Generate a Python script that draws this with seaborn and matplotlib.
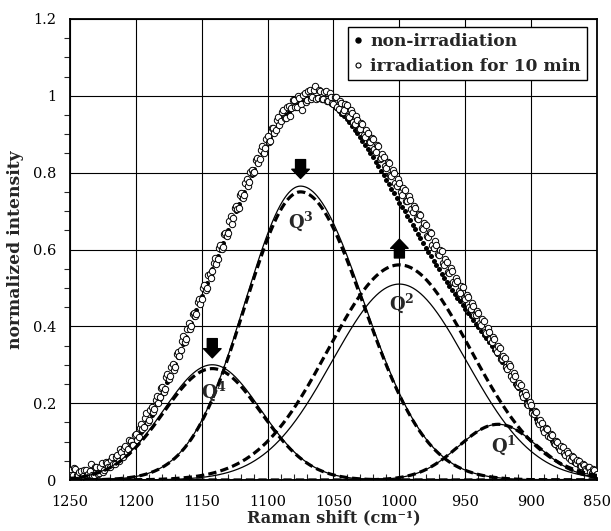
import numpy as np
import pandas as pd
import matplotlib
matplotlib.use("Agg")
import matplotlib.pyplot as plt
import seaborn as sns
from matplotlib.lines import Line2D
from matplotlib.ticker import MultipleLocator, FixedLocator

# ---------------- data ----------------
wavenumber_non = np.arange(1250, 849, -2)   # sampling of the non-irradiated spectrum (cm-1)
wavenumber_irr = np.arange(1250, 849, -1)   # sampling of the irradiated spectrum (cm-1)

non_irradiation = [
    0.008, 0.009, 0.008, 0.010, 0.009,
    0.010, 0.012, 0.013, 0.015, 0.016,
    0.018, 0.022, 0.025, 0.028, 0.032,
    0.035, 0.041, 0.046, 0.052, 0.057,
    0.063, 0.070, 0.079, 0.087, 0.095,
    0.103, 0.114, 0.124, 0.136, 0.146,
    0.157, 0.170, 0.184, 0.198, 0.211,
    0.225, 0.240, 0.256, 0.271, 0.287,
    0.302, 0.320, 0.337, 0.355, 0.372,
    0.390, 0.408, 0.425, 0.443, 0.460,
    0.478, 0.496, 0.513, 0.531, 0.548,
    0.566, 0.583, 0.600, 0.618, 0.635,
    0.652, 0.668, 0.685, 0.701, 0.718,
    0.734, 0.749, 0.765, 0.780, 0.795,
    0.810, 0.824, 0.837, 0.851, 0.864,
    0.878, 0.889, 0.901, 0.912, 0.924,
    0.935, 0.943, 0.950, 0.958, 0.965,
    0.973, 0.977, 0.981, 0.985, 0.989,
    0.993, 0.995, 0.996, 0.996, 0.996,
    0.995, 0.992, 0.988, 0.984, 0.980,
    0.975, 0.968, 0.961, 0.954, 0.947,
    0.940, 0.931, 0.921, 0.912, 0.902,
    0.893, 0.882, 0.872, 0.861, 0.851,
    0.840, 0.828, 0.817, 0.805, 0.794,
    0.782, 0.770, 0.758, 0.746, 0.734,
    0.722, 0.711, 0.699, 0.688, 0.676,
    0.665, 0.653, 0.641, 0.629, 0.617,
    0.605, 0.594, 0.582, 0.571, 0.559,
    0.548, 0.537, 0.526, 0.516, 0.505,
    0.494, 0.484, 0.474, 0.465, 0.455,
    0.445, 0.435, 0.426, 0.416, 0.407,
    0.397, 0.388, 0.378, 0.369, 0.359,
    0.350, 0.339, 0.329, 0.318, 0.308,
    0.297, 0.286, 0.274, 0.263, 0.251,
    0.240, 0.228, 0.217, 0.205, 0.194,
    0.182, 0.171, 0.160, 0.150, 0.139,
    0.128, 0.119, 0.111, 0.102, 0.094,
    0.085, 0.078, 0.072, 0.065, 0.059,
    0.052, 0.048, 0.043, 0.039, 0.034,
    0.030, 0.026, 0.023, 0.019, 0.016,
    0.012,
]

irradiation_10min = [
    0.026, 0.012, 0.012, 0.032, 0.029, 0.013, 0.013, 0.022, 0.024, 0.009,
    0.010, 0.026, 0.027, 0.012, 0.015, 0.023, 0.042, 0.013, 0.013, 0.035,
    0.034, 0.016, 0.019, 0.033, 0.044, 0.021, 0.027, 0.047, 0.045, 0.033,
    0.035, 0.053, 0.059, 0.041, 0.042, 0.061, 0.066, 0.050, 0.080, 0.072,
    0.061, 0.082, 0.089, 0.072, 0.080, 0.103, 0.101, 0.092, 0.090, 0.117,
    0.120, 0.104, 0.113, 0.136, 0.146, 0.132, 0.138, 0.161, 0.174, 0.150,
    0.155, 0.183, 0.190, 0.176, 0.185, 0.209, 0.218, 0.200, 0.215, 0.239,
    0.241, 0.230, 0.236, 0.267, 0.276, 0.262, 0.271, 0.295, 0.302, 0.287,
    0.295, 0.329, 0.333, 0.323, 0.338, 0.363, 0.376, 0.360, 0.368, 0.394,
    0.409, 0.394, 0.402, 0.433, 0.434, 0.426, 0.432, 0.463, 0.472, 0.458,
    0.470, 0.499, 0.507, 0.494, 0.499, 0.533, 0.537, 0.526, 0.543, 0.565,
    0.577, 0.562, 0.574, 0.603, 0.611, 0.601, 0.607, 0.641, 0.643, 0.636,
    0.644, 0.673, 0.686, 0.667, 0.682, 0.709, 0.714, 0.705, 0.708, 0.741,
    0.748, 0.735, 0.741, 0.773, 0.784, 0.764, 0.777, 0.802, 0.808, 0.798,
    0.802, 0.834, 0.838, 0.825, 0.835, 0.860, 0.869, 0.850, 0.865, 0.887,
    0.896, 0.881, 0.883, 0.915, 0.915, 0.902, 0.910, 0.937, 0.944, 0.923,
    0.934, 0.958, 0.962, 0.942, 0.942, 0.972, 0.973, 0.947, 0.968, 0.988,
    0.990, 0.972, 0.971, 0.999, 0.994, 0.978, 0.964, 1.003, 1.008, 0.985,
    0.988, 1.012, 1.016, 0.991, 0.996, 1.014, 1.025, 0.991, 0.994, 1.014,
    1.013, 0.992, 0.991, 1.011, 1.012, 0.987, 0.987, 1.007, 0.998, 0.982,
    0.980, 0.998, 0.996, 0.970, 0.965, 0.986, 0.982, 0.959, 0.962, 0.978,
    0.975, 0.947, 0.945, 0.962, 0.956, 0.933, 0.926, 0.947, 0.937, 0.914,
    0.914, 0.930, 0.927, 0.898, 0.893, 0.911, 0.903, 0.879, 0.880, 0.891,
    0.888, 0.862, 0.855, 0.872, 0.870, 0.836, 0.837, 0.849, 0.841, 0.817,
    0.811, 0.828, 0.824, 0.794, 0.791, 0.806, 0.799, 0.772, 0.764, 0.784,
    0.774, 0.749, 0.742, 0.760, 0.756, 0.726, 0.725, 0.738, 0.729, 0.705,
    0.698, 0.713, 0.709, 0.681, 0.679, 0.693, 0.690, 0.657, 0.654, 0.668,
    0.663, 0.634, 0.632, 0.646, 0.642, 0.613, 0.605, 0.623, 0.613, 0.589,
    0.585, 0.598, 0.596, 0.564, 0.559, 0.575, 0.567, 0.541, 0.539, 0.551,
    0.545, 0.516, 0.512, 0.526, 0.519, 0.493, 0.486, 0.505, 0.503, 0.473,
    0.470, 0.482, 0.477, 0.450, 0.444, 0.460, 0.454, 0.430, 0.430, 0.440,
    0.434, 0.409, 0.404, 0.418, 0.415, 0.386, 0.382, 0.395, 0.385, 0.366,
    0.360, 0.372, 0.368, 0.341, 0.334, 0.349, 0.343, 0.316, 0.314, 0.323,
    0.317, 0.294, 0.289, 0.301, 0.297, 0.270, 0.264, 0.278, 0.270, 0.248,
    0.244, 0.253, 0.248, 0.223, 0.217, 0.229, 0.222, 0.198, 0.195, 0.202,
    0.196, 0.175, 0.171, 0.180, 0.176, 0.152, 0.147, 0.157, 0.149, 0.132,
    0.126, 0.135, 0.132, 0.114, 0.111, 0.120, 0.116, 0.096, 0.095, 0.101,
    0.098, 0.082, 0.079, 0.088, 0.086, 0.070, 0.065, 0.075, 0.070, 0.056,
    0.053, 0.062, 0.060, 0.046, 0.044, 0.053, 0.050, 0.036, 0.036, 0.042,
    0.040, 0.028, 0.026, 0.034, 0.033, 0.020, 0.018, 0.028, 0.027, 0.014,
    0.015,
]

# Gaussian components (Q^n species)
peak_names = ["Q$^{\\mathbf{4}}$", "Q$^{\\mathbf{3}}$", "Q$^{\\mathbf{2}}$", "Q$^{\\mathbf{1}}$"]
peak_center = [1142, 1075, 1000, 925]
height_non = [0.300, 0.765, 0.510, 0.145]
height_irr = [0.290, 0.750, 0.560, 0.145]
sigma_high_non = [37, 42, 51, 30]   # width on high-wavenumber side
sigma_low_non = [37, 48, 51, 30]    # width on low-wavenumber side
sigma_high_irr = [37, 42, 54, 30]
sigma_low_irr = [37, 48, 54, 30]
baseline_level = [0.0, 0.0]

x_ticks = [1250, 1200, 1150, 1100, 1050, 1000, 950, 900, 850]
y_ticks = [0, 0.2, 0.4, 0.6, 0.8, 1.0, 1.2]
y_tick_labels = ["0", "0.2", "0.4", "0.6", "0.8", "1", "1.2"]

# ---------------- style ----------------
sns.set_theme(style="white")
plt.rcParams["font.family"] = ["DejaVu Serif"]
plt.rcParams["mathtext.fontset"] = "dejavuserif"
plt.rcParams["axes.edgecolor"] = "black"

fig = plt.figure(figsize=(6.11, 5.31), dpi=100)
ax = fig.add_axes([70 / 611, 51 / 531, 527 / 611, 461 / 531])

x_fit = np.linspace(850, 1250, 801)


def component(c, h, s_hi, s_lo):
    s = np.where(x_fit >= c, s_hi, s_lo)
    return h * np.exp(-((x_fit - c) ** 2) / (2.0 * s ** 2))


# data points
sns.scatterplot(x=wavenumber_non, y=non_irradiation, ax=ax, color="black", s=13,
                linewidth=0, zorder=3, legend=False)
sns.scatterplot(x=wavenumber_irr, y=irradiation_10min, ax=ax, facecolor="white",
                edgecolor="black", s=21, linewidth=0.7, zorder=4, legend=False)

# components
for i in range(len(peak_center)):
    yn = component(peak_center[i], height_non[i], sigma_high_non[i], sigma_low_non[i])
    yi = component(peak_center[i], height_irr[i], sigma_high_irr[i], sigma_low_irr[i])
    sns.lineplot(x=x_fit, y=yn, ax=ax, color="black", lw=0.9, zorder=5,
                 estimator=None, sort=False)
    sns.lineplot(x=x_fit, y=yi, ax=ax, color="black", lw=2.3, zorder=5,
                 linestyle=(0, (2.6, 1.3)), estimator=None, sort=False)
sns.lineplot(x=[1250, 850], y=baseline_level, ax=ax, color="black", lw=2.3,
             linestyle=(0, (2.6, 1.3)), zorder=5, estimator=None, sort=False)

# labels for the components
label_pos = [(1141, 0.232), (1075, 0.673), (998, 0.46), (921, 0.091)]
for name, (lx, ly) in zip(peak_names, label_pos):
    ax.text(lx, ly, name, ha="center", va="center", fontsize=13,
            fontweight="bold", zorder=6)

# arrows showing change on irradiation
arrow_specs = [((1142, 0.368), (1142, 0.318)),
               ((1075, 0.834), (1075, 0.785)),
               ((1000, 0.578), (1000, 0.627))]
for base, tip in arrow_specs:
    ax.annotate("", xy=tip, xytext=base,
                arrowprops=dict(arrowstyle="simple,head_length=0.55,head_width=1.05,tail_width=0.6",
                                color="black", shrinkA=0, shrinkB=0, mutation_scale=12),
                zorder=6)

# axes
ax.set_xlim(1250, 850)
ax.set_ylim(0, 1.2)
ax.xaxis.set_major_locator(FixedLocator(x_ticks))
ax.set_xticklabels([str(t) for t in x_ticks])
ax.yaxis.set_major_locator(FixedLocator(y_ticks))
ax.set_yticklabels(y_tick_labels)
ax.xaxis.set_minor_locator(MultipleLocator(10))
ax.yaxis.set_minor_locator(MultipleLocator(0.05))
ax.grid(True, which="major", color="black", lw=0.8)
ax.tick_params(axis="both", which="major", length=0, labelsize=10.5, colors="black")
ax.tick_params(axis="x", which="major", pad=11)
ax.tick_params(axis="y", which="major", pad=10)
ax.tick_params(axis="x", which="minor", direction="in", length=4, width=0.8, bottom=True)
ax.tick_params(axis="y", which="minor", direction="out", length=4, width=0.8, left=True)
for sp in ax.spines.values():
    sp.set_linewidth(1.3)
    sp.set_color("black")

ax.set_xlabel("Raman shift (cm⁻¹)", fontsize=11.6, fontweight="bold", labelpad=0)
ax.set_ylabel("normalized intensity", fontsize=12.3, fontweight="bold", labelpad=6)

handles = [
    Line2D([], [], marker="o", ls="", color="black", markersize=3.6),
    Line2D([], [], marker="o", ls="", markerfacecolor="white",
           markeredgecolor="black", markersize=3.6, markeredgewidth=0.8),
]
leg = ax.legend(handles, ["non-irradiation", "irradiation for 10 min"],
                loc="upper right", bbox_to_anchor=(0.981, 0.983), borderaxespad=0,
                handlelength=0.5, handletextpad=0.45, borderpad=0.35, labelspacing=0.45,
                prop={"weight": "bold", "size": 12.3}, frameon=True, fancybox=False,
                edgecolor="black", framealpha=1)
leg.get_frame().set_linewidth(1.0)
leg.set_zorder(10)

fig.savefig("out.png", dpi=100)
